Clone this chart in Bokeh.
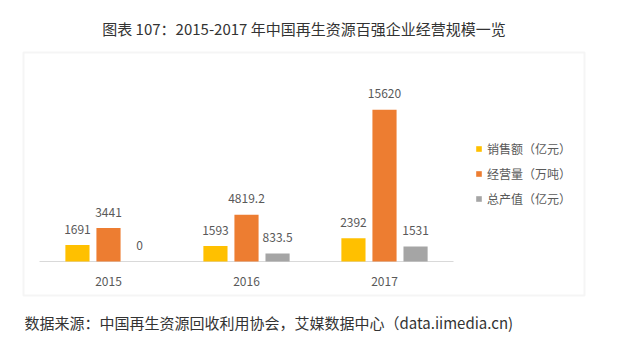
from bokeh.plotting import figure
from bokeh.models import ColumnDataSource, Range1d, Label, BoxAnnotation, Legend, LegendItem
from bokeh.transform import dodge
from bokeh.core.properties import value
from bokeh.embed import file_html
from bokeh.resources import INLINE

years = ["2015", "2016", "2017"]
sales = [1691, 1593, 2392]          # 销售额（亿元）
volume = [3441, 4819.2, 15620]      # 经营量（万吨）
output = [0, 833.5, 1531]           # 总产值（亿元）
sales_txt = ["1691", "1593", "2392"]
volume_txt = ["3441", "4819.2", "15620"]
output_txt = ["0", "833.5", "1531"]
series_names = ["销售额（亿元）", "经营量（万吨）", "总产值（亿元）"]
colors = ["#FFC000", "#ED7D31", "#A5A5A5"]

FONT = "Noto Sans CJK SC"
W, H = 625, 351

# layout (pixels): category band from x=39 to x=453, baseline at y=261 (from top), 18000 at y=86
CAT_PX = 138.0
LEFT_PX = 39.0
BASE_PX = 261.0
K = 175.0 / 18000.0  # px per unit

xpos = [i + 0.5 for i in range(len(years))]
src = ColumnDataSource(dict(x=xpos, year=years, zero=[0] * len(years),
                            sales=sales, volume=volume, output=output,
                            sales_txt=sales_txt, volume_txt=volume_txt, output_txt=output_txt))

p = figure(width=W, height=H,
           x_range=Range1d(-LEFT_PX / CAT_PX, (W - LEFT_PX) / CAT_PX),
           y_range=Range1d(-(H - BASE_PX) / K, BASE_PX / K),
           output_backend="svg", toolbar_location=None,
           min_border=0)
p.background_fill_color = "white"
p.border_fill_color = "white"
p.outline_line_color = None
p.grid.visible = False
p.axis.visible = False

# category axis line
p.segment(x0=[0], y0=[0], x1=[len(years)], y1=[0], line_color="#D9D9D9", line_width=1)
# category labels
p.text(x="x", y="zero", text="year", source=src, text_align="center", text_baseline="middle",
       y_offset=20, text_font=value(FONT), text_font_size="12px", text_color="#595959")

offsets = [-0.225, 0.0, 0.225]
fields = ["sales", "volume", "output"]
renderers = []
for off, fld, col in zip(offsets, fields, colors):
    r = p.vbar(x=dodge("x", off), top=fld, bottom=0, width=0.175,
               source=src, fill_color=col, line_color=None)
    renderers.append(r)
    p.text(x=dodge("x", off), y=fld, text=fld + "_txt", source=src,
           text_align="center", text_baseline="alphabetic", y_offset=-16,
           text_font=value(FONT), text_font_size="12px", text_color="#595959")

legend = Legend(items=[LegendItem(label=n, renderers=[r]) for n, r in zip(series_names, renderers)],
                location=(475, 144), orientation="vertical",
                glyph_width=7, glyph_height=7, label_height=18, spacing=7,
                label_standoff=5, padding=0, margin=0,
                border_line_color=None, background_fill_alpha=0,
                label_text_font=FONT, label_text_font_size="12px", label_text_color="#595959")
p.add_layout(legend, "center")

box = BoxAnnotation(left=23, right=584, top=H - 52, bottom=H - 295,
                    left_units="screen", right_units="screen", top_units="screen", bottom_units="screen",
                    fill_alpha=0, line_color="#DDDDDD", line_width=2)
p.add_layout(box)

title = Label(x=303.5, y=H - 28, x_units="screen", y_units="screen",
              text="图表 107：2015-2017 年中国再生资源百强企业经营规模一览",
              text_align="center", text_baseline="middle",
              text_font=FONT, text_font_size="15px", text_color="#333333")
p.add_layout(title)

source_lbl = Label(x=24, y=H - 322, x_units="screen", y_units="screen",
                   text="数据来源：中国再生资源回收利用协会，艾媒数据中心（data.iimedia.cn)",
                   text_align="left", text_baseline="middle",
                   text_font=FONT, text_font_size="15px", text_color="#333333")
p.add_layout(source_lbl)

open("out.html", "w").write(file_html(p, INLINE))
